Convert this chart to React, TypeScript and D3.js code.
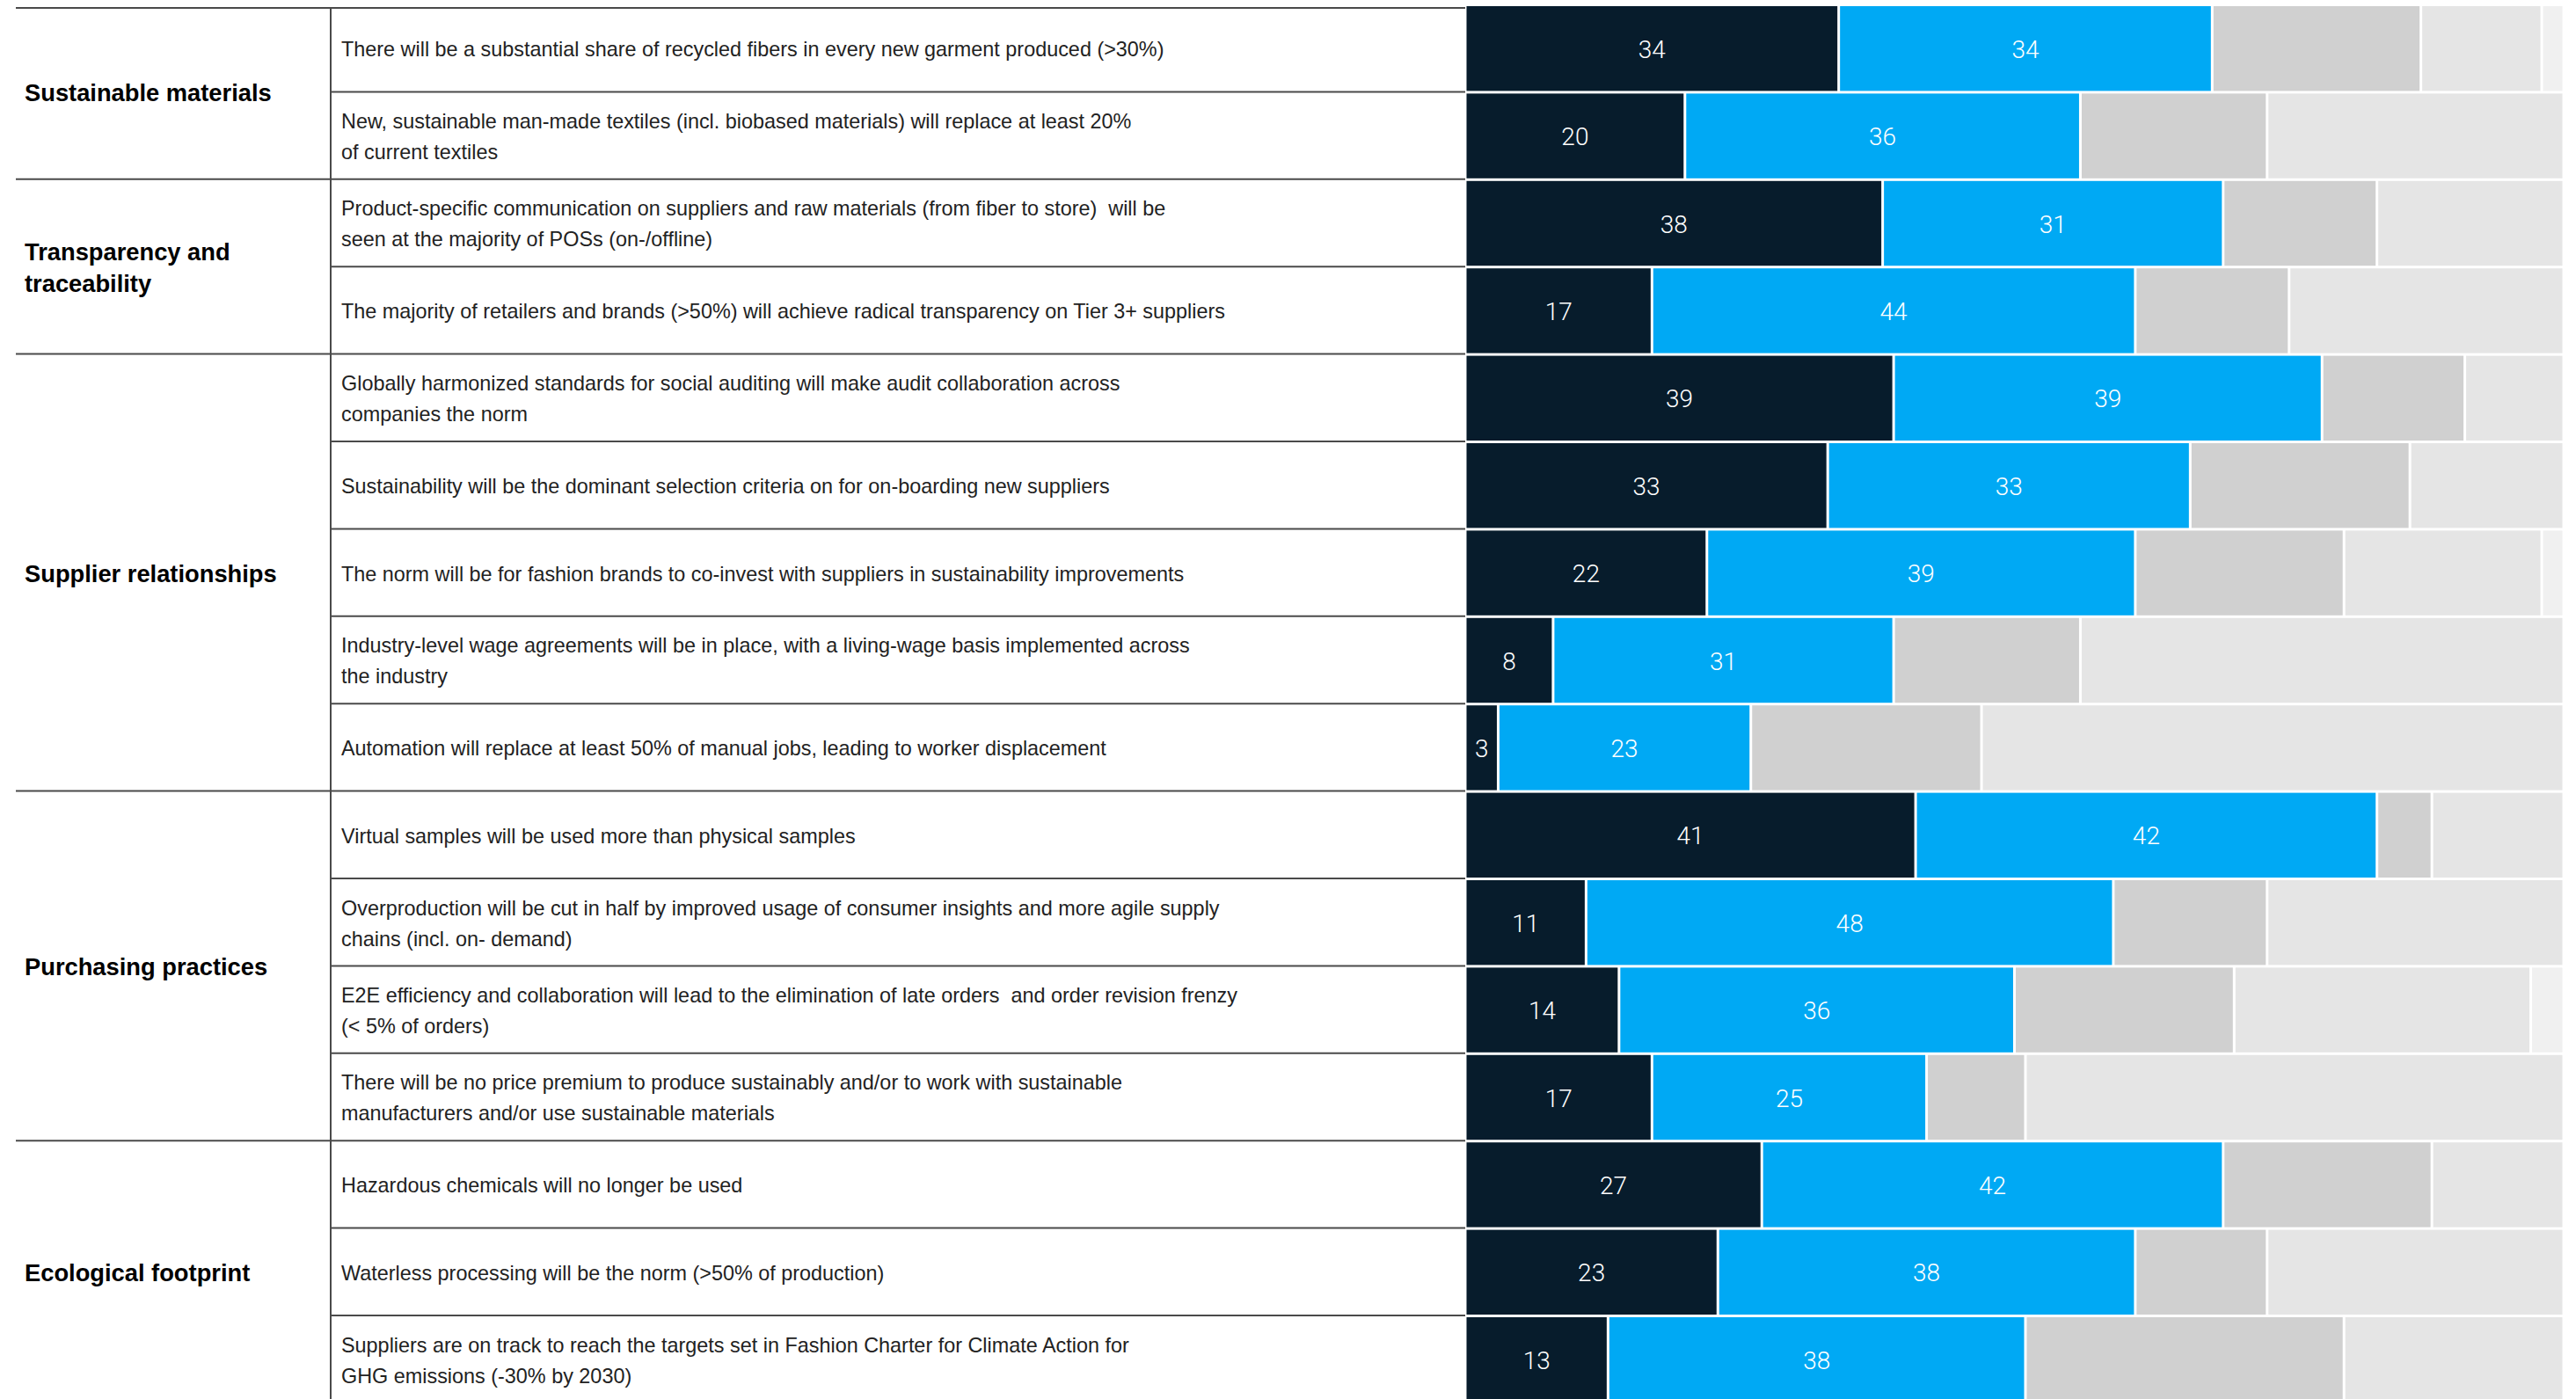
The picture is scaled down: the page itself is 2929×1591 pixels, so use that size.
import * as d3 from 'd3';

// survey statements, grouped by theme
const groups = [
  { name: ['Sustainable materials'], count: 2 },
  { name: ['Transparency and', 'traceability'], count: 2 },
  { name: ['Supplier relationships'], count: 5 },
  { name: ['Purchasing practices'], count: 4 },
  { name: ['Ecological footprint'], count: 3 },
];

const statements = [
  ['There will be a substantial share of recycled fibers in every new garment produced (>30%)'],
  ['New, sustainable man-made textiles (incl. biobased materials) will replace at least 20%', 'of current textiles'],
  ['Product-specific communication on suppliers and raw materials (from fiber to store)  will be', 'seen at the majority of POSs (on-/offline)'],
  ['The majority of retailers and brands (>50%) will achieve radical transparency on Tier 3+ suppliers'],
  ['Globally harmonized standards for social auditing will make audit collaboration across', 'companies the norm'],
  ['Sustainability will be the dominant selection criteria on for on-boarding new suppliers'],
  ['The norm will be for fashion brands to co-invest with suppliers in sustainability improvements'],
  ['Industry-level wage agreements will be in place, with a living-wage basis implemented across', 'the industry'],
  ['Automation will replace at least 50% of manual jobs, leading to worker displacement'],
  ['Virtual samples will be used more than physical samples'],
  ['Overproduction will be cut in half by improved usage of consumer insights and more agile supply', 'chains (incl. on- demand)'],
  ['E2E efficiency and collaboration will lead to the elimination of late orders  and order revision frenzy', '(< 5% of orders)'],
  ['There will be no price premium to produce sustainably and/or to work with sustainable', 'manufacturers and/or use sustainable materials'],
  ['Hazardous chemicals will no longer be used'],
  ['Waterless processing will be the norm (>50% of production)'],
  ['Suppliers are on track to reach the targets set in Fashion Charter for Climate Action for', 'GHG emissions (-30% by 2030)'],
];

// share of respondents, %
const stronglyAgree = [34, 20, 38, 17, 39, 33, 22, 8, 3, 41, 11, 14, 17, 27, 23, 13];
const agree = [34, 36, 31, 44, 39, 33, 39, 31, 23, 42, 48, 36, 25, 42, 38, 38];
const neutral = [19, 17, 14, 14, 13, 20, 19, 17, 21, 5, 14, 20, 9, 19, 12, 29];
const disagree = [11, 27, 17, 25, 9, 14, 18, 44, 53, 12, 27, 27, 49, 12, 27, 20];
const stronglyDisagree = [2, 0, 0, 0, 0, 0, 2, 0, 0, 0, 0, 3, 0, 0, 0, 0];

const seriesKeys = ['stronglyAgree', 'agree', 'neutral', 'disagree', 'stronglyDisagree'];
const colors = ['#071c2c', '#00a9f4', '#d0d0d0', '#e5e5e5', '#f0f0f0'];
const labelled = [true, true, false, false, false];

const W = 2929;
const H = 1591;
const top = 5;
const ruleTop = 9;
const rowH = 99.4;
const leftX = 18;
const divX = 376;
const barX0 = 1666;
const barX1 = 2915;
const lineColor = '#4a4a4a';
const textFont = "'Liberation Sans', Arial, sans-serif";
const numFont = "Roboto, 'Liberation Sans', sans-serif";

export default function App() {
  const rows = statements.map((s, i) => ({
    i,
    stronglyAgree: stronglyAgree[i],
    agree: agree[i],
    neutral: neutral[i],
    disagree: disagree[i],
    stronglyDisagree: stronglyDisagree[i],
  }));
  const stacked = d3.stack().keys(seriesKeys)(rows as any);

  const x = d3.scaleLinear().domain([0, 100]).range([barX0, barX1]);
  const y = d3.scaleBand<number>()
    .domain(d3.range(statements.length))
    .range([top, top + rowH * statements.length]);
  const bw = y.bandwidth();

  // group start/end row indices
  let acc = 0;
  const groupSpans = groups.map(g => {
    const start = acc;
    acc += g.count;
    return { ...g, start, end: acc };
  });

  return (
    <div style={{ position: 'absolute', left: 0, top: 0 }}>
      <svg width={W} height={H} style={{ display: 'block', background: '#fff' }}>
        {/* bars */}
        {stacked.map((layer, k) => (
          <g key={seriesKeys[k]}>
            {layer.map((d, i) => {
              const x0 = x(d[0]);
              const x1 = x(d[1]);
              if (x1 - x0 <= 0) return null;
              return (
                <rect
                  key={i}
                  x={x0 + 1.5}
                  y={(y(i) as number) + 2}
                  width={Math.max(0, x1 - x0 - 3)}
                  height={bw - 3}
                  fill={colors[k]}
                />
              );
            })}
          </g>
        ))}
        {/* value labels */}
        {stacked.map((layer, k) =>
          labelled[k]
            ? layer.map((d, i) => (
                <text
                  key={`${k}-${i}`}
                  x={(x(d[0]) + x(d[1])) / 2}
                  y={(y(i) as number) + bw / 2 + 1}
                  dy="0.36em"
                  textAnchor="middle"
                  fill="#fff"
                  fontFamily={numFont}
                  fontWeight={300}
                  fontSize={28}
                >
                  {d[1] - d[0]}
                </text>
              ))
            : null
        )}

        {/* table rules */}
        <line x1={leftX} x2={barX0} y1={ruleTop} y2={ruleTop} stroke={lineColor} strokeWidth={2} />
        {groupSpans.slice(1).map(g => (
          <line key={g.start} x1={leftX} x2={barX0} y1={y(g.start)} y2={y(g.start)} stroke={lineColor} strokeWidth={2} />
        ))}
        {statements.map((s, i) =>
          i > 0 && !groupSpans.some(g => g.start === i) ? (
            <line key={i} x1={divX} x2={barX0} y1={y(i)} y2={y(i)} stroke={lineColor} strokeWidth={2} />
          ) : null
        )}
        <line x1={divX} x2={divX} y1={ruleTop} y2={H} stroke={lineColor} strokeWidth={2} />

        {/* group labels */}
        {groupSpans.map(g => {
          const cy = ((y(g.start) as number) + (y(g.end - 1) as number) + bw) / 2 + 1;
          return (
            <text key={g.start} fontFamily={textFont} fontWeight="bold" fontSize={27.3} fill="#000">
              {g.name.map((t, j) => (
                <tspan key={j} x={28} y={cy + (j - (g.name.length - 1) / 2) * 36} dy="0.36em">
                  {t}
                </tspan>
              ))}
            </text>
          );
        })}

        {/* statements */}
        {statements.map((lines, i) => {
          const cy = (y(i) as number) + bw / 2 + 1;
          return (
            <text key={i} fontFamily={textFont} fontSize={23.4} fill="#222">
              {lines.map((t, j) => (
                <tspan key={j} x={388} y={cy + (j - (lines.length - 1) / 2) * 35} dy="0.36em" style={{ whiteSpace: 'pre' }}>
                  {t}
                </tspan>
              ))}
            </text>
          );
        })}
      </svg>
    </div>
  );
}
